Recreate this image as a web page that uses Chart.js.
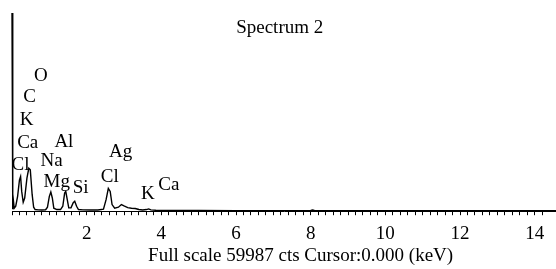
<!DOCTYPE html>
<html>
<head>
<meta charset="utf-8">
<script src="https://cdn.jsdelivr.net/npm/chart.js@4.4.1/dist/chart.umd.min.js"></script>
<style>
  html, body { margin: 0; padding: 0; background: #ffffff; }
  #wrap { width: 556px; height: 269px; position: relative; }
</style>
</head>
<body>
<div id="wrap"><canvas id="c" width="556" height="269"></canvas></div>
<script>
// ---- data (energy in keV, counts) ----
const titleText = "Spectrum 2";
const footerText = "Full scale 59987 cts Cursor:0.000 (keV)";
const fullScale = 59987;
const energyMax = 14.57;
const majorTickLabels = [2, 4, 6, 8, 10, 12, 14];

const energies = [
  0.00, 0.02, 0.04, 0.06, 0.10, 0.15, 0.20, 0.23, 0.26, 0.30,
  0.34, 0.40, 0.45, 0.49, 0.54, 0.58, 0.62, 0.70, 0.80, 0.90,
  0.95, 1.00, 1.04, 1.08, 1.12, 1.20, 1.30, 1.36, 1.41, 1.44,
  1.48, 1.52, 1.58, 1.64, 1.68, 1.73, 1.78, 1.90, 2.10, 2.30,
  2.45, 2.52, 2.58, 2.63, 2.68, 2.75, 2.85, 2.93, 3.00, 3.10,
  3.20, 3.30, 3.40, 3.50, 3.60, 3.66, 3.72, 3.85, 4.00, 5.00,
  6.00, 7.00, 8.00, 8.05, 8.10, 9.00, 10.00, 11.00, 12.00, 13.00,
  14.00, 14.57
];
const counts = [
  59987, 600, 3000, 900, 1500, 4500, 9500, 10500, 6000, 2700,
  4000, 10000, 13000, 12500, 5000, 1200, 500, 400, 350, 450,
  1200, 4500, 5800, 4000, 900, 500, 500, 1500, 5500, 6000,
  3500, 1000, 1000, 2600, 3000, 1500, 500, 400, 350, 350,
  600, 3500, 6900, 6000, 2000, 900, 1200, 2000, 1600, 1100,
  900, 800, 500, 350, 500, 700, 400, 300, 250, 200,
  180, 180, 250, 350, 200, 170, 150, 150, 140, 130,
  120, 120
];

// element annotations (text, keV, counts)
const elementNames  = ["O", "C", "K", "Ca", "Cl", "Na", "Al", "Mg", "Si", "Ag", "Cl", "K", "Ca"];
const elementKeV    = [0.77, 0.47, 0.39, 0.42, 0.23, 1.06, 1.39, 1.20, 1.84, 2.91, 2.62, 3.64, 4.20];
const elementCounts = [41000, 34700, 27700, 20500, 13900, 15100, 20800, 8700, 6900, 17800, 10200, 5100, 7800];

const FONT = '"Liberation Serif", "Times New Roman", serif';

const textPlugin = {
  id: 'texts',
  afterDraw(chart) {
    const ctx = chart.ctx;
    const xs = chart.scales.x, ys = chart.scales.y;
    const area = chart.chartArea;
    ctx.save();
    ctx.fillStyle = '#000';
    ctx.textAlign = 'center';
    ctx.textBaseline = 'middle';
    ctx.font = '19px ' + FONT;
    for (let i = 0; i < elementNames.length; i++) {
      ctx.fillText(elementNames[i], xs.getPixelForValue(elementKeV[i]), ys.getPixelForValue(elementCounts[i]));
    }
    ctx.fillText(titleText, xs.getPixelForValue(7.17), area.top + 15);
    ctx.fillText(footerText, xs.getPixelForValue(7.73), chart.height - 13);
    ctx.restore();
  }
};

const points = energies.map((e, i) => ({ x: e, y: counts[i] }));

new Chart(document.getElementById('c'), {
  type: 'line',
  data: {
    datasets: [{
      data: points,
      borderColor: '#000',
      borderWidth: 1.4,
      pointRadius: 0,
      tension: 0,
      fill: false,
      clip: 4
    }]
  },
  options: {
    responsive: false,
    animation: false,
    devicePixelRatio: 1,
    layout: { padding: { left: 12, right: 0, top: 13, bottom: 17 } },
    plugins: { legend: { display: false }, tooltip: { enabled: false }, title: { display: false } },
    scales: {
      x: {
        type: 'linear',
        min: 0,
        max: energyMax,
        afterFit: function (scale) { scale.paddingLeft = 0; scale.paddingRight = 0; },
        border: { display: true, color: '#000', width: 1 },
        grid: { drawOnChartArea: false, drawTicks: true, tickLength: 4, color: '#000', tickWidth: 1 },
        ticks: {
          stepSize: 0.2,
          autoSkip: false,
          maxRotation: 0,
          padding: 7,
          color: '#000',
          font: { family: FONT, size: 19 },
          callback: function (v) {
            for (const m of majorTickLabels) {
              if (Math.abs(v - m) < 1e-6) return String(m);
            }
            return '';
          }
        }
      },
      y: {
        display: false,
        min: 0,
        max: fullScale
      }
    }
  },
  plugins: [textPlugin]
});
</script>
</body>
</html>
